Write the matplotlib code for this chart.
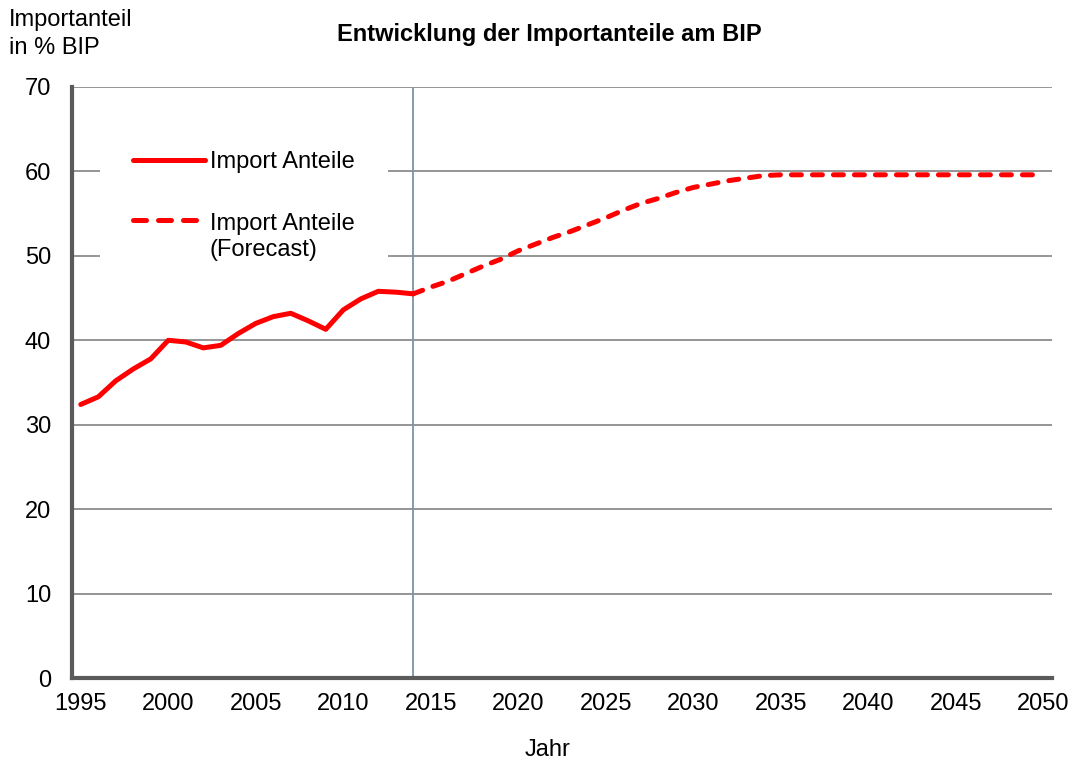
import matplotlib.pyplot as plt
from matplotlib.legend_handler import HandlerLine2D

plt.rcParams['font.family'] = ['Liberation Sans', 'DejaVu Sans']

jahre_ist = list(range(1995, 2015))
anteil_ist = [32.4, 33.3, 35.2, 36.6, 37.8, 40.0, 39.8, 39.1, 39.4, 40.8,
              42.0, 42.8, 43.2, 42.3, 41.3, 43.6, 44.9, 45.8, 45.7, 45.5]

jahre_prog = list(range(2014, 2051))
anteil_prog = [45.5, 46.3, 47.0, 47.9, 48.8, 49.6, 50.6, 51.4, 52.2, 52.9,
               53.7, 54.5, 55.4, 56.2, 56.8, 57.5, 58.1, 58.5, 58.9, 59.2,
               59.5, 59.6, 59.6, 59.6, 59.6, 59.6, 59.6, 59.6, 59.6, 59.6,
               59.6, 59.6, 59.6, 59.6, 59.6, 59.6, 59.6]

xticks = list(range(1995, 2051, 5))
yticks = list(range(0, 71, 10))


# legend handle for the two-line label sits on the first line, like Excel
class ObererHandler(HandlerLine2D):
    def create_artists(self, legend, orig_handle, xdescent, ydescent,
                       width, height, fontsize, trans):
        arts = super().create_artists(legend, orig_handle, xdescent, ydescent,
                                      width, height, fontsize, trans)
        for a in arts:
            a.set_ydata([y + 12.5 for y in a.get_ydata()])
            a.set_dashes((2.6, 2.4))
        return arts


fig = plt.figure(figsize=(10.78, 7.65), dpi=100)
ax = fig.add_axes([0.0668, 0.1137, 0.9091, 0.7726])

for y in yticks[1:]:
    ax.axhline(y, color='#8c8c8c', lw=1.3, zorder=1)
ax.axvline(2014, color='#7d93a6', lw=1.3, zorder=1)

l1, = ax.plot(jahre_ist, anteil_ist, color='#ff0000', lw=3.6, zorder=3,
              solid_capstyle='round', solid_joinstyle='round', label='Import Anteile')
l2, = ax.plot(jahre_prog, anteil_prog, color='#ff0000', lw=3.6, zorder=3,
              dashes=(2.0, 2.2), dash_capstyle='round',
              label='Import Anteile\n(Forecast)')

ax.set_xlim(1994.5, 2050.5)
ax.set_ylim(0, 70)
ax.set_xticks(xticks)
ax.set_yticks(yticks)
ax.tick_params(length=0, labelsize=17)
ax.tick_params(axis='y', pad=15)
ax.tick_params(axis='x', pad=11)

for s in ['top', 'right']:
    ax.spines[s].set_visible(False)
for s in ['left', 'bottom']:
    ax.spines[s].set_color('#5a5a5a')
    ax.spines[s].set_linewidth(3)

leg = ax.legend(loc='upper left', bbox_to_anchor=(0.0286, 0.948), fontsize=17,
                frameon=True, facecolor='white', edgecolor='none', fancybox=False,
                framealpha=1, handlelength=3.05, handletextpad=0.2,
                labelspacing=1.72, borderpad=1.4, borderaxespad=0,
                handler_map={l2: ObererHandler()})
leg.set_zorder(2)

fig.text(0.008, 0.988, 'Importanteil\nin % BIP', fontsize=17, ha='left', va='top',
         linespacing=1.35)
fig.text(0.51, 0.955, 'Entwicklung der Importanteile am BIP', fontsize=17,
         fontweight='bold', ha='center', va='center')
fig.text(0.508, 0.02, 'Jahr', fontsize=17, ha='center', va='center')

fig.savefig('out.png', dpi=100)
